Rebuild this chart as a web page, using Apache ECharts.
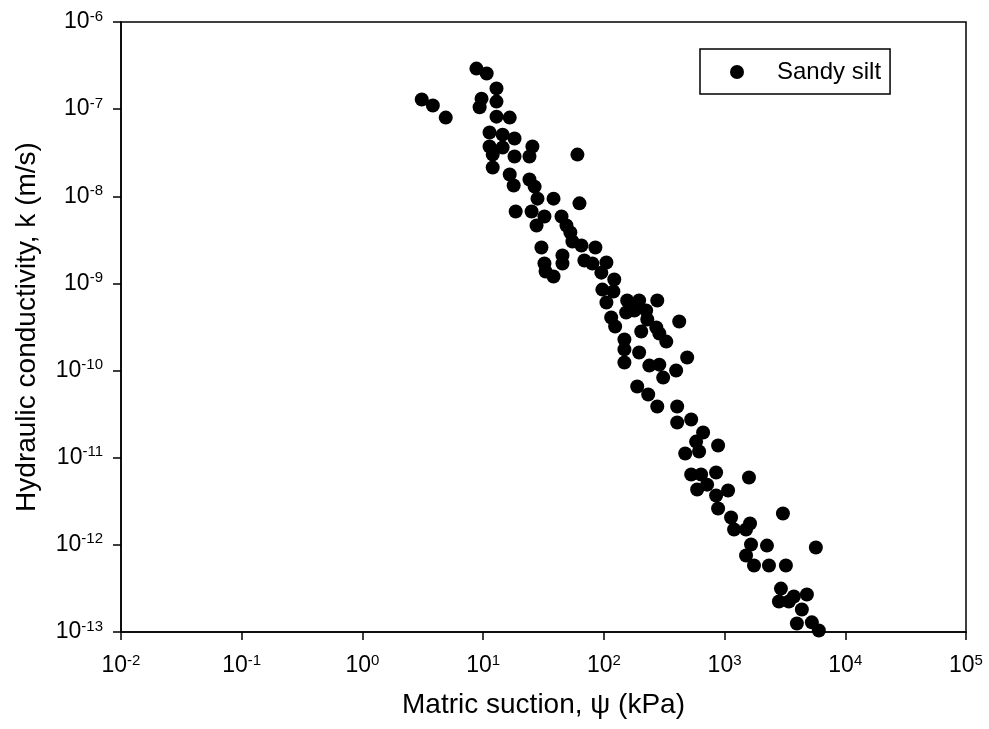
<!DOCTYPE html>
<html>
<head>
<meta charset="utf-8">
<script src="https://cdn.jsdelivr.net/npm/echarts@6/dist/echarts.min.js"></script>
<style>
html,body{margin:0;padding:0;background:#fff;}
#chart{width:989px;height:729px;}
</style>
</head>
<body>
<div id="chart"></div>
<script>
// Matric suction (kPa)
const suction = [
  3.1, 3.83, 4.9, 8.8, 10.7, 12.9, 9.7, 9.35, 12.9, 12.9,
  16.6, 11.3, 14.5, 18.2, 11.3, 14.5, 12.0, 18.2, 25.6, 24.2,
  60.4, 12.0, 16.6, 17.9, 24.2, 26.7, 28.2, 38.3, 62.8, 18.6,
  25.2, 32.2, 27.7, 44.6, 49.0, 52.8, 54.9, 65.2, 85.1, 30.4,
  45.4, 45.4, 32.2, 32.9, 38.3, 69.0, 80.3, 105, 95.3, 122,
  97.2, 120, 105, 156, 196, 277, 153, 179, 224, 229,
  115, 124, 204, 272, 288, 421, 329, 148, 148, 196,
  148, 238, 288, 310, 397, 490, 189, 233, 277, 405,
  405, 529, 664, 581, 884, 472, 615, 529, 639, 851,
  717, 593, 851, 1069, 884, 1593, 1132, 1199, 1506, 1625,
  2245, 1656, 1506, 1753, 2333, 3221, 3044, 5705, 2931, 2820,
  3412, 3750, 4808, 4368, 3972, 5284, 6039
];
// Hydraulic conductivity (m/s)
const conductivity = [
  1.29e-7, 1.10e-7, 8.0e-8, 2.92e-7, 2.56e-7, 1.73e-7, 1.32e-7, 1.05e-7, 1.22e-7, 8.2e-8,
  8.0e-8, 5.4e-8, 5.1e-8, 4.6e-8, 3.72e-8, 3.63e-8, 3.01e-8, 2.86e-8, 3.72e-8, 2.86e-8,
  3.01e-8, 2.14e-8, 1.78e-8, 1.33e-8, 1.56e-8, 1.29e-8, 9.4e-9, 9.4e-9, 8.3e-9, 6.7e-9,
  6.7e-9, 5.86e-9, 4.62e-9, 5.86e-9, 4.62e-9, 3.84e-9, 3.03e-9, 2.72e-9, 2.58e-9, 2.58e-9,
  2.09e-9, 1.69e-9, 1.69e-9, 1.37e-9, 1.20e-9, 1.83e-9, 1.69e-9, 1.74e-9, 1.33e-9, 1.11e-9,
  8.5e-10, 8.07e-10, 6.04e-10, 6.37e-10, 6.37e-10, 6.37e-10, 4.63e-10, 4.89e-10, 4.89e-10, 3.86e-10,
  4.07e-10, 3.21e-10, 2.81e-10, 3.12e-10, 2.66e-10, 3.66e-10, 2.15e-10, 2.27e-10, 1.75e-10, 1.61e-10,
  1.24e-10, 1.14e-10, 1.17e-10, 8.3e-11, 1.0e-10, 1.41e-10, 6.56e-11, 5.31e-11, 3.87e-11, 3.87e-11,
  2.54e-11, 2.74e-11, 1.95e-11, 1.53e-11, 1.38e-11, 1.12e-11, 1.18e-11, 6.41e-12, 6.41e-12, 6.76e-12,
  4.91e-12, 4.31e-12, 3.68e-12, 4.21e-12, 2.61e-12, 5.93e-12, 2.06e-12, 1.50e-12, 1.50e-12, 1.76e-12,
  9.8e-13, 1.01e-12, 7.55e-13, 5.79e-13, 5.79e-13, 5.79e-13, 2.29e-12, 9.33e-13, 3.15e-13, 2.24e-13,
  2.24e-13, 2.55e-13, 2.69e-13, 1.81e-13, 1.25e-13, 1.29e-13, 1.04e-13
];
const seriesName = 'Sandy silt';
const xTitle = 'Matric suction, \u03c8 (kPa)';
const yTitle = 'Hydraulic conductivity, k (m/s)';
const xMin = 1e-2, xMax = 1e5;
const yMin = 1e-13, yMax = 1e-6;

const points = suction.map((s, i) => [s, conductivity[i]]);
const FONT = '"Liberation Sans", Arial, sans-serif';

function powLabel(v) {
  const e = Math.round(Math.log10(v));
  return '{b|10}{s|' + e + '}';
}
const rich = {
  b: {fontSize: 23, fontFamily: FONT, color: '#000', lineHeight: 26},
  s: {fontSize: 15, fontFamily: FONT, color: '#000', verticalAlign: 'top', lineHeight: 15}
};

const chart = echarts.init(document.getElementById('chart'), null, {renderer: 'canvas'});
chart.setOption({
  animation: false,
  backgroundColor: '#fff',
  grid: {left: 121, right: 23, top: 22, bottom: 97, show: true, borderColor: '#000', borderWidth: 1.5, backgroundColor: 'transparent'},
  legend: {
    data: [seriesName],
    left: 700, top: 49,
    orient: 'vertical',
    padding: [11, 9, 10, 30],
    itemWidth: 14, itemHeight: 14, itemGap: 0,
    icon: 'circle',
    borderColor: '#000', borderWidth: 1.5, borderRadius: 0,
    textStyle: {fontSize: 24, fontFamily: FONT, color: '#000', padding: [0, 0, 0, 28]}
  },
  xAxis: {
    type: 'log', logBase: 10, min: xMin, max: xMax, splitNumber: 7,
    name: xTitle, nameLocation: 'middle', nameGap: 59,
    nameTextStyle: {fontSize: 28, fontFamily: FONT, color: '#000'},
    axisLine: {show: true, lineStyle: {color: '#000', width: 1.5}},
    axisTick: {show: true, inside: false, length: 8, lineStyle: {color: '#000', width: 1.5}},
    minorTick: {show: false},
    splitLine: {show: false},
    axisLabel: {margin: 21, formatter: powLabel, rich: rich}
  },
  yAxis: {
    type: 'log', logBase: 10, min: yMin, max: yMax, splitNumber: 7,
    name: yTitle, nameLocation: 'middle', nameGap: 80,
    nameTextStyle: {fontSize: 28, fontFamily: FONT, color: '#000'},
    axisLine: {show: true, lineStyle: {color: '#000', width: 1.5}},
    axisTick: {show: true, inside: false, length: 8, lineStyle: {color: '#000', width: 1.5}},
    splitLine: {show: false},
    axisLabel: {margin: 18, formatter: powLabel, rich: rich}
  },
  series: [{
    name: seriesName,
    type: 'scatter',
    symbol: 'circle',
    symbolSize: 14,
    itemStyle: {color: '#000', opacity: 1},
    data: points
  }]
});
</script>
</body>
</html>
